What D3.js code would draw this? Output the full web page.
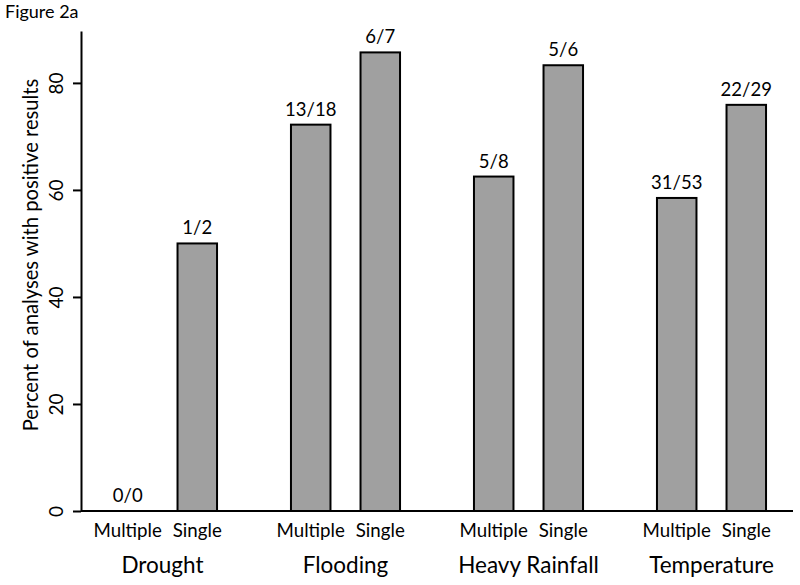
<!DOCTYPE html>
<html>
<head>
<meta charset="utf-8">
<script src="https://cdn.jsdelivr.net/npm/d3@7"></script>
<style>
  body { margin: 0; background: #fff; }
  text { font-family: Lato, "Noto Sans", sans-serif; fill: #000; }
</style>
</head>
<body>
<div id="chart"></div>
<script>
var groups = ["Drought", "Flooding", "Heavy Rainfall", "Temperature"]
var types = ["Multiple", "Single"]
var multipleVals = [0, 72.2, 62.5, 58.5]
var singleVals = [50, 85.7, 83.3, 75.9]
var multipleLabels = ["0/0", "13/18", "5/8", "31/53"]
var singleLabels = ["1/2", "6/7", "5/6", "22/29"]
var yTicks = [0, 20, 40, 60, 80]

var data = groups.map(function(g, i) {
  return { group: g, bars: [
    { type: "Multiple", value: multipleVals[i], label: multipleLabels[i] },
    { type: "Single", value: singleVals[i], label: singleLabels[i] }
  ]}
})

var svg = d3.select("#chart").append("svg")
  .attr("width", 800)
  .attr("height", 585)

var x0 = d3.scaleBand()
  .domain(groups)
  .range([71, 803])
  .paddingInner(0.404)
  .paddingOuter(0.202)

var x1 = d3.scaleBand()
  .domain(types)
  .range([0, x0.bandwidth()])
  .paddingInner(0.432)

var y = d3.scaleLinear()
  .domain([0, 89.7])
  .range([511, 31])

var axisX = 81

// y axis
var yAxis = svg.append("g")
  .attr("transform", "translate(" + axisX + ",0)")
  .call(d3.axisLeft(y).tickValues(yTicks).tickSize(8).tickSizeOuter(0))
yAxis.select(".domain").attr("stroke-width", 2)
yAxis.selectAll(".tick line").attr("stroke-width", 2)
yAxis.selectAll(".tick text")
  .attr("font-size", 19)
  .attr("text-anchor", "middle")
  .attr("transform", "translate(-25,0) rotate(-90)")
  .attr("x", 0)
  .attr("dy", "0.35em")

// baseline
svg.append("line")
  .attr("x1", axisX).attr("x2", 793)
  .attr("y1", y(0)).attr("y2", y(0))
  .attr("stroke", "#000").attr("stroke-width", 2)

var g = svg.selectAll(".grp")
  .data(data)
  .enter().append("g")
  .attr("class", "grp")
  .attr("transform", function(d) { return "translate(" + x0(d.group) + ",0)" })

g.selectAll("rect")
  .data(function(d) { return d.bars.filter(function(b) { return b.value > 0 }) })
  .enter().append("rect")
  .attr("x", function(d) { return x1(d.type) })
  .attr("y", function(d) { return y(d.value) })
  .attr("width", x1.bandwidth())
  .attr("height", function(d) { return y(0) - y(d.value) })
  .attr("fill", "#a0a0a0")
  .attr("stroke", "#000")
  .attr("stroke-width", 2)

g.selectAll(".val")
  .data(function(d) { return d.bars })
  .enter().append("text")
  .attr("class", "val")
  .attr("x", function(d) { return x1(d.type) + x1.bandwidth() / 2 })
  .attr("y", function(d) { return y(d.value) - 9 })
  .attr("text-anchor", "middle")
  .attr("font-size", 18.5)
  .text(function(d) { return d.label })

g.selectAll(".typ")
  .data(function(d) { return d.bars })
  .enter().append("text")
  .attr("class", "typ")
  .attr("x", function(d) { return x1(d.type) + x1.bandwidth() / 2 })
  .attr("y", 537)
  .attr("text-anchor", "middle")
  .attr("font-size", 18.7)
  .text(function(d) { return d.type })

g.append("text")
  .attr("x", x0.bandwidth() / 2)
  .attr("y", 573)
  .attr("text-anchor", "middle")
  .attr("font-size", 22.5)
  .text(function(d) { return d.group })

// y title
svg.append("text")
  .attr("transform", "translate(38,255) rotate(-90)")
  .attr("text-anchor", "middle")
  .attr("font-size", 20.2)
  .text("Percent of analyses with positive results")

svg.append("text")
  .attr("x", 5).attr("y", 18)
  .attr("font-size", 18)
  .text("Figure 2a")
</script>
</body>
</html>
